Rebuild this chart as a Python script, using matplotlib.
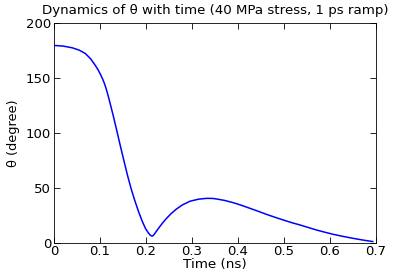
import numpy as np
import matplotlib.pyplot as plt

# values
time_ns = [0.000, 0.020, 0.040, 0.055, 0.068, 0.080, 0.090, 0.096, 0.101, 0.106,
           0.110, 0.114, 0.118, 0.123, 0.130, 0.137, 0.144, 0.152, 0.160, 0.168,
           0.176, 0.184, 0.192, 0.199, 0.205, 0.209, 0.2125, 0.215, 0.218, 0.223,
           0.230, 0.238, 0.245, 0.255, 0.267, 0.280, 0.296, 0.314, 0.332, 0.345,
           0.354, 0.372, 0.390, 0.408, 0.426, 0.444, 0.462, 0.480, 0.499, 0.517,
           0.535, 0.553, 0.571, 0.589, 0.607, 0.625, 0.643, 0.660, 0.677, 0.693]
theta_deg = [179.8, 179.2, 177.6, 175.5, 172.5, 167.5, 161.5, 157.5, 153.5, 149.0,
             144.8, 139.6, 133.6, 125.5, 113.8, 101.4, 88.8, 74.8, 61.2, 48.8,
             38.0, 28.2, 19.4, 12.9, 9.0, 7.0, 6.0, 6.2, 7.6, 10.6,
             14.6, 18.9, 22.3, 26.6, 30.9, 34.6, 37.8, 39.6, 40.4, 40.3,
             39.8, 38.4, 36.4, 34.0, 31.3, 28.6, 25.8, 23.2, 20.6, 18.2,
             16.1, 13.8, 11.5, 9.5, 7.6, 6.0, 4.5, 3.2, 2.0, 1.0]

fig = plt.figure(figsize=(4.15, 2.77), dpi=100)
ax = fig.add_axes([0.130, 0.124, 0.776, 0.792])

ax.plot(time_ns, theta_deg, color=(0, 0, 1), linewidth=1.1)

ax.set_xlim(0, 0.7)
ax.set_ylim(0, 200)
ax.set_xticks(np.arange(0, 0.71, 0.1))
ax.set_xticklabels(['0', '0.1', '0.2', '0.3', '0.4', '0.5', '0.6', '0.7'])
ax.set_yticks([0, 50, 100, 150, 200])

ax.tick_params(direction='in', top=True, right=True, length=4, width=0.6,
               labelsize=9.5, pad=2)
for s in ax.spines.values():
    s.set_linewidth(0.6)

ax.set_xlabel('Time (ns)', fontsize=9.7, labelpad=0)
ax.set_ylabel('θ (degree)', fontsize=9.3, labelpad=4)
ax.set_title('Dynamics of θ with time (40 MPa stress, 1 ps ramp)', fontsize=9.6, pad=7)

fig.savefig('out.png', dpi=100)
